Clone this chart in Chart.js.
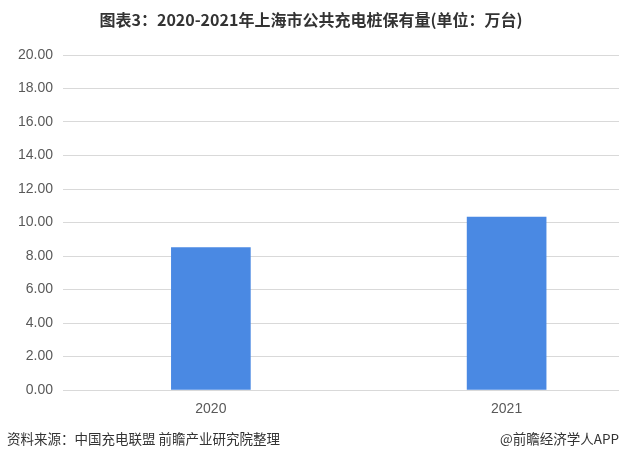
<!DOCTYPE html>
<html>
<head>
<meta charset="utf-8">
<script src="https://cdn.jsdelivr.net/npm/chart.js@4"></script>
<style>
  body { margin: 0; background: #fff; }
  #wrap { position: relative; width: 619px; height: 459px; font-family: "Noto Sans CJK SC", sans-serif; }
  #title { position: absolute; top: 7px; left: 0; width: 622px; text-align: center; font-size: 16px; font-weight: bold; color: #333; }
  #src { position: absolute; left: 7px; top: 428px; font-size: 13.5px; color: #333; }
  #app { position: absolute; right: 0; top: 428px; font-size: 13.5px; color: #333; }
  #box { position: absolute; left: 0; top: 0; width: 619px; height: 459px; }
</style>
</head>
<body>
<div id="wrap">
  <div id="box"><canvas id="myChart"></canvas></div>
  <div id="title">图表3：2020-2021年上海市公共充电桩保有量(单位：万台)</div>
  <div id="src">资料来源：中国充电联盟 前瞻产业研究院整理</div>
  <div id="app">@前瞻经济学人APP</div>
</div>
<script>
const years = ['2020', '2021'];
const stock = [8.51, 10.32];

const points = years.map((y, i) => ({ x: i, y: stock[i] }));

const config = {
    type: 'bar',
    data: {
        datasets: [{
            data: points,
            backgroundColor: '#4a89e3',
            barThickness: 79
        }]
    },
    options: {
        responsive: true,
        maintainAspectRatio: false,
        animation: false,
        layout: { padding: { top: 55, right: 0, left: 0, bottom: 0 } },
        plugins: {
            legend: { display: false },
            tooltip: { enabled: false }
        },
        scales: {
            x: {
                type: 'linear',
                offset: false,
                min: -0.5,
                max: 1.38,
                grid: { display: false, drawTicks: false },
                border: { display: true, color: '#d9d9d9' },
                afterBuildTicks: (s) => { s.ticks = years.map((y, i) => ({ value: i })); },
                afterFit: (s) => { s.height = 69; },
                ticks: {
                    padding: 11,
                    color: '#595959',
                    font: { size: 14, family: 'Liberation Sans' },
                    callback: (v) => years[v]
                }
            },
            y: {
                min: 0,
                max: 20,
                grid: { color: '#d9d9d9', drawTicks: false },
                border: { display: false },
                afterFit: (s) => { s.width = 63; },
                ticks: {
                    stepSize: 2,
                    padding: 10,
                    color: '#595959',
                    font: { size: 14, family: 'Liberation Sans' },
                    callback: (v) => v.toFixed(2)
                }
            }
        }
    }
};

var myChart = new Chart(document.getElementById('myChart'), config);
</script>
</body>
</html>
